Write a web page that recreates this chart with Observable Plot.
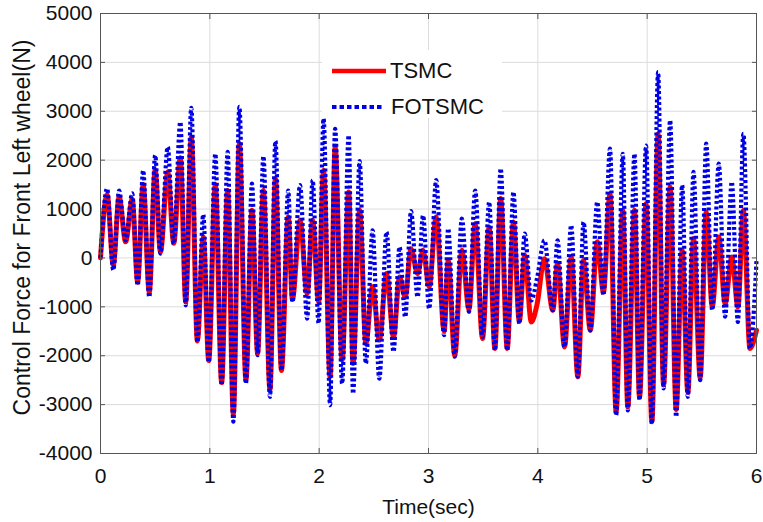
<!DOCTYPE html>
<html>
<head>
<meta charset="utf-8">
<script src="https://cdn.jsdelivr.net/npm/d3@7"></script>
<script src="https://cdn.jsdelivr.net/npm/@observablehq/plot@0.6"></script>
<style>
  body { margin: 0; background: white; }
  #wrap { position: relative; width: 763px; height: 522px; }
  #legend { position: absolute; left: 322px; top: 50px; width: 180px; height: 68px; background: white;
            font-family: "Liberation Sans", Arial, sans-serif; font-size: 22px; color: #111; }
  #legend .row { position: absolute; left: 8px; display: flex; align-items: center; }
</style>
</head>
<body>
<div id="wrap"></div>
<script>
const time = [0.00,0.06,0.117,0.17,0.23,0.29,0.34,0.39,0.446,0.50,0.548,0.615,0.67,0.73,0.78,0.83,0.886,0.94,0.99,1.05,1.108,1.163,1.215,1.27,1.33,1.385,1.437,1.49,1.55,1.60,1.655,1.717,1.755,1.825,1.89,1.94,1.995,2.04,2.10,2.146,2.21,2.27,2.31,2.37,2.427,2.488,2.55,2.616,2.68,2.735,2.787,2.84,2.90,2.95,3.006,3.07,3.143,3.18,3.24,3.305,3.37,3.427,3.494,3.555,3.607,3.66,3.72,3.777,3.83,3.88,3.94,3.994,4.06,4.137,4.18,4.244,4.305,4.366,4.418,4.48,4.543,4.60,4.66,4.716,4.777,4.823,4.884,4.93,4.99,5.043,5.10,5.15,5.21,5.265,5.32,5.372,5.424,5.485,5.54,5.595,5.655,5.713,5.774,5.83,5.88,5.94,6.00];
const fotsmc = [0,1420,-250,1380,360,1320,-560,1790,-800,2100,90,2270,290,2780,-970,3070,-1720,890,-2130,2130,-2600,2170,-3350,3090,-2570,1520,-1990,2080,-2840,2390,-2300,1380,-900,1490,-1240,1590,-1340,2850,-3010,2640,-2570,2510,-2775,1980,-2160,566,-2470,530,-1920,225,-1210,960,-800,870,-1040,1590,-1580,600,-2020,805,-1100,1380,-1615,1145,-1890,1830,-1890,1350,-1340,500,-870,-400,360,-1070,360,-1820,670,-2430,735,-1480,1145,-760,2235,-3220,2130,-3120,2130,-2910,2300,-3390,3800,-2670,2815,-3250,1490,-2840,1760,-2500,2340,-1070,1930,-1200,1555,-1310,2540,-1850,-50];
const tsmc = [0,1300,-150,1250,330,1200,-500,1500,-700,1800,120,1760,300,2050,-900,2470,-1700,430,-2100,1500,-2550,1380,-3200,2340,-2500,975,-1950,1380,-2700,1620,-2300,840,-850,770,-730,770,-900,1790,-2430,2270,-2090,1350,-2160,975,-1750,-590,-1680,-320,-1620,-390,-800,190,-320,157,-590,840,-1500,-50,-2000,157,-1050,700,-1650,630,-1850,1215,-1850,735,-1300,55,-1310,-935,-15,-1070,-115,-1820,20,-2430,-50,-1480,330,-700,1315,-3150,975,-3050,975,-2850,1110,-3350,2540,-2600,1450,-3100,157,-2750,400,-2450,940,-1000,430,-935,20,-1000,975,-1850,-1480];
const xTicks = [0,1,2,3,4,5,6];
const yTicks = [-4000,-3000,-2000,-1000,0,1000,2000,3000,4000,5000];
const seriesNames = ["TSMC","FOTSMC"];

const redData = time.map((t,i)=>({t, v: tsmc[i]}));
const blueData = time.map((t,i)=>({t, v: fotsmc[i]}));

const chart = Plot.plot({
  width: 763, height: 522,
  marginLeft: 100, marginRight: 7, marginTop: 13, marginBottom: 69,
  style: { fontFamily: '"Liberation Sans", Arial, sans-serif', fontSize: "21px", color: "#111", background: "white", overflow: "visible" },
  x: { domain: [0, 6] },
  y: { domain: [-4000, 5000] },
  marks: [
    Plot.gridX(xTicks, { stroke: "#dcdcdc", strokeOpacity: 1 }),
    Plot.gridY(yTicks, { stroke: "#dcdcdc", strokeOpacity: 1 }),
    Plot.line(redData, { x: "t", y: "v", stroke: "#ff0000", strokeWidth: 5, curve: "monotone-x" }),
    Plot.line(blueData, { x: "t", y: "v", stroke: "#0000e6", strokeWidth: 4.2, strokeDasharray: "3,2.5", strokeLinecap: "butt", curve: "monotone-x" }),
    Plot.frame({ stroke: "#555", strokeWidth: 1 }),
    Plot.axisX(xTicks, { anchor: "bottom", tickSize: -5, tickPadding: 20, stroke: "#555", tickFormat: d => String(d), label: "Time(sec)", labelAnchor: "center", labelArrow: "none", labelOffset: 60 }),
    Plot.axisX(xTicks, { anchor: "top", tickSize: -5, tickFormat: () => "", stroke: "#555", label: null }),
    Plot.axisY(yTicks, { anchor: "left", tickSize: -5, tickPadding: 13, stroke: "#555", tickFormat: d => String(d), label: null }),
    Plot.axisY(yTicks, { anchor: "right", tickSize: -5, tickFormat: () => "", stroke: "#555", label: null }),
    Plot.text(["Control Force for Front Left wheel(N)"], { frameAnchor: "left", textAnchor: "middle", dx: -78, dy: -6, rotate: -90, fontSize: 23, fill: "#111" })
  ]
});
const wrap = document.getElementById("wrap");
wrap.appendChild(chart);

const legend = document.createElement("div");
legend.id = "legend";
legend.innerHTML = `
  <div class="row" style="top:8px"><svg width="56" height="14"><line x1="2" x2="56" y1="7" y2="7" stroke="#ff0000" stroke-width="4.5"/></svg><span style="margin-left:4px">${seriesNames[0]}</span></div>
  <div class="row" style="top:44px"><svg width="56" height="14"><line x1="2" x2="54" y1="7" y2="7" stroke="#0000e6" stroke-width="4.2" stroke-dasharray="4.5,3"/></svg><span style="margin-left:5px">${seriesNames[1]}</span></div>`;
wrap.appendChild(legend);
</script>
</body>
</html>
